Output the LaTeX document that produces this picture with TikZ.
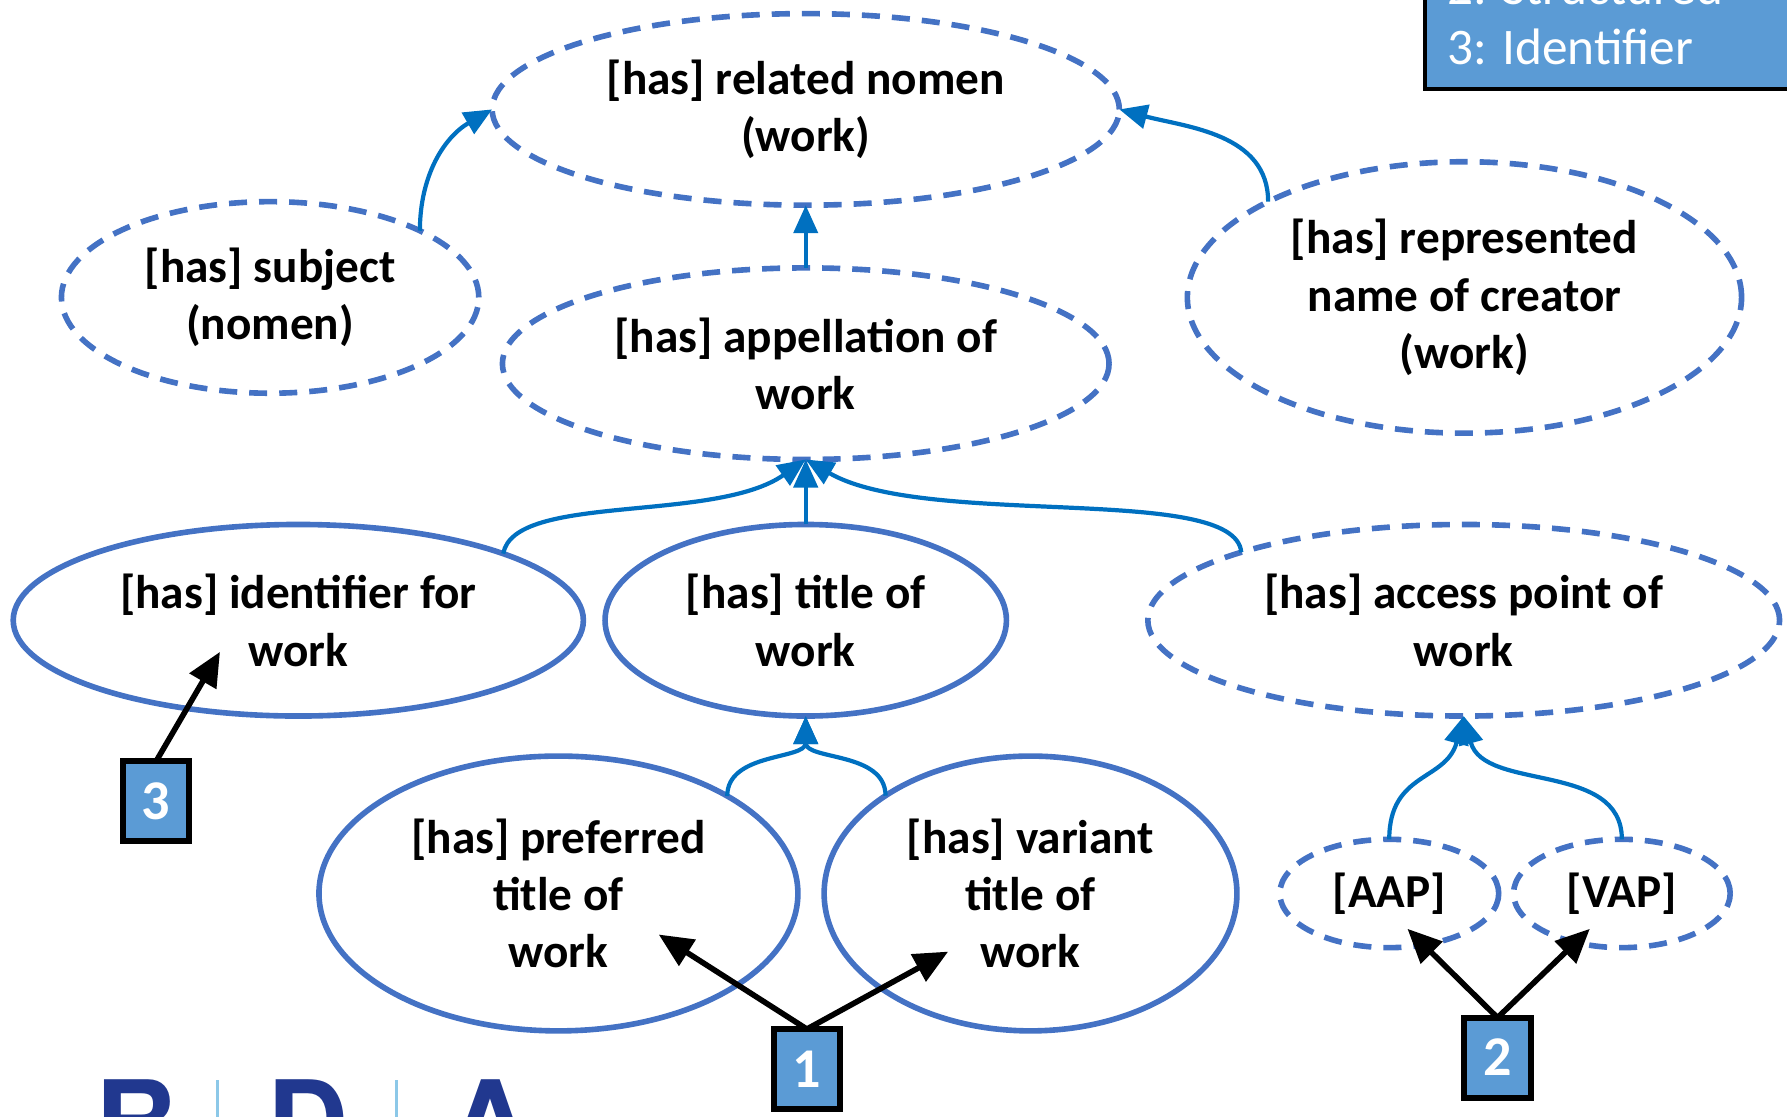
\documentclass[tikz,border=0pt]{standalone}
\usepackage{fontspec}
\setmainfont{Carlito}
\newfontfamily\logofont{TeX Gyre Heros}
\usetikzlibrary{shapes.geometric,arrows.meta,positioning}
\definecolor{rdaline}{HTML}{4472C4}
\definecolor{rdaarrow}{HTML}{0070C0}
\definecolor{rdabox}{HTML}{5B9BD5}
\definecolor{rdalogo}{HTML}{21388F}
\definecolor{rdabar}{HTML}{8CC8E8}
\tikzset{
  elem/.style={ellipse, draw=rdaline, line width=1.4pt, inner sep=0pt, outer sep=0pt, align=center,
    font=\fontsize{11.8}{14.3}\selectfont\bfseries},
  elemd/.style={elem, dash pattern=on 4.5pt off 3pt},
  numbox/.style={draw=black, line width=1.5pt, fill=rdabox, text=white, inner sep=0pt, outer sep=0pt,
    minimum width=0.58cm, minimum height=0.7cm, font=\fontsize{14}{16}\selectfont\bfseries},
  sub/.style={draw=rdaarrow, line width=1.05pt, -{Triangle[length=7pt,width=6pt]}},
  pointer/.style={draw=black, line width=1.4pt, -{Triangle[length=8.5pt,width=7.5pt]}},
  logo/.style={text=rdalogo, inner sep=0pt, font=\logofont\bfseries\fontsize{28}{30}\selectfont},
}
\begin{document}
\begin{tikzpicture}[x=0.01cm, y=-0.01cm]
	\useasboundingbox (0,0) rectangle (1568,980);
	\clip (0,0) rectangle (1568,980);
	% Legend
	\node[draw=black, line width=1pt, fill=rdabox, minimum width=3.6cm, minimum height=1.2cm, anchor=south west] (legend) at (1249,80) {};
	\node[anchor=base west, align=left, text=white, inner sep=0pt, font=\fontsize{12.8}{15}\selectfont] (legendtxt) at (1269,57) {2: Structured\\3: Identifier};
	% Upper elements
	\node[elemd, minimum width=5.5cm, minimum height=1.68cm] (rel) at (707,96) {[has] related nomen\\(work)};
	\node[elemd, minimum width=5.32cm, minimum height=1.68cm, below=0.55cm of rel] (app) {[has] appellation of\\work};
	\node[elemd, minimum width=3.66cm, minimum height=1.68cm] (subj) at (237,261) {[has] subject\\(nomen)};
	\node[elemd, minimum width=4.86cm, minimum height=2.38cm] (rep) at (1285,261) {[has] represented\\name of creator\\(work)};
	% Middle row
	\node[elem, minimum width=3.52cm, minimum height=1.68cm, below=0.57cm of app] (title) {[has] title of\\work};
	\node[elem, minimum width=5cm, minimum height=1.68cm, left=0.19cm of title] (ident) {[has] identifier for\\work};
	\node[elemd, minimum width=5.54cm, minimum height=1.68cm, right=1.24cm of title] (acc) {[has] access point of\\work};
	% Lower row
	\node[elem, minimum width=4.2cm, minimum height=2.41cm] (pref) at (490,784) {[has] preferred\\title of\\work};
	\node[elem, minimum width=3.62cm, minimum height=2.41cm, right=0.23cm of pref] (var) {[has] variant\\title of\\work};
	\node[elemd, minimum width=1.92cm, minimum height=0.95cm] (aap) at (1219,784) {[AAP]};
	\node[elemd, minimum width=1.9cm, minimum height=0.95cm, right=0.13cm of aap] (vap) {[VAP]};
	% Numbered boxes
	\node[numbox] (box3) at (137,703) {3};
	\node[numbox] (box1) at (708,938) {1};
	\node[numbox] (box2) at (1314,928) {2};
	\coordinate (p3) at (193,572);
	\coordinate (p1a) at (578,820);
	\coordinate (p1b) at (832,835);
	\coordinate (p2a) at (1235,815);
	\coordinate (p2b) at (1395,815);
	% Sub-element links
	\draw[sub] (subj.24) to[out=90, in=-150] (rel.west);
	\draw[sub] (rep.154) to[out=90, in=-15] (rel.east);
	\draw[sub] (app.north) -- (rel.south);
	\draw[sub] (ident.18) to[out=80, in=-145, out looseness=0.5, in looseness=0.9] (app.south);
	\draw[sub] (title.north) -- (app.south);
	\draw[sub] (acc.163) to[out=95, in=-30, out looseness=0.4, in looseness=0.8] (app.south);
	\draw[sub] (pref.30) to[out=90, in=-90] (title.south);
	\draw[sub] (var.146) to[out=90, in=-90] (title.south);
	\draw[sub] (aap.north) to[out=90, in=-105, looseness=1.2] (acc.south);
	\draw[sub] (vap.north) to[out=90, in=-75] (acc.south);
	% Pointers
	\draw[pointer] (box3.north) -- (p3);
	\draw[pointer] (box1.north) -- (p1a);
	\draw[pointer] (box1.north) -- (p1b);
	\draw[pointer] (box2.north) -- (p2a);
	\draw[pointer] (box2.north) -- (p2b);
	% Logo
	\node[logo, anchor=base] (logoR) at (119,1019) {R};
	\node[logo, anchor=base] (logoD) at (270,1019) {D};
	\node[logo, anchor=base] (logoA) at (430,1019) {A};
	\draw[rdabar, line width=0.6pt] (191,948) -- (191,980);
	\draw[rdabar, line width=0.6pt] (348,948) -- (348,980);
\end{tikzpicture}
\end{document}
